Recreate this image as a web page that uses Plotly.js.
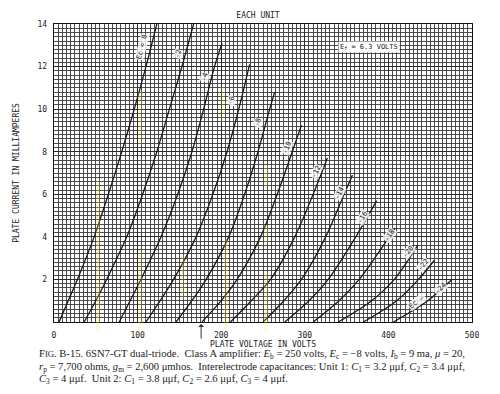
<!DOCTYPE html>
<html><head><meta charset="utf-8">
<script src="https://cdn.plot.ly/plotly-3.0.1.min.js"></script>
<style>html,body{margin:0;padding:0;background:#fff}#chart{width:500px;height:394px}</style>
</head><body><div id="chart"></div>
<script>
// Plate characteristics of the 6SN7-GT (each unit)
const gridBias = [0, -2, -4, -6, -8, -10, -12, -14, -16, -18, -20, -22, -24];
const curveLabels = ['Ec = 0', '-2', '-4', '-6', '-8', '-10', '-12', '-14', '-16', '-18', '-20', '-22', '-24'];

const ec0V   = [6, 17, 28, 48, 65, 81, 96, 110, 123];
const ec0I   = [0, 1, 2, 4, 6, 8, 10, 12, 14];
const ec2V   = [36, 50, 63, 87, 106, 123, 138, 153, 167];
const ec2I   = [0, 1, 2, 4, 6, 8, 10, 12, 14];
const ec4V   = [78, 91, 104, 128, 148, 165, 179, 192, 201];
const ec4I   = [0, 1, 2, 4, 6, 8, 10, 12, 13.1];
const ec6V   = [110, 127, 143, 170, 190, 207, 221, 234];
const ec6I   = [0, 1, 2, 4, 6, 8, 10, 12.1];
const ec8V   = [146, 165, 182, 209, 228, 244, 258, 264];
const ec8I   = [0, 1, 2, 4, 6, 8, 10, 10.8];
const ec10V  = [177, 200, 219, 247, 267, 285, 296];
const ec10I  = [0, 1, 2, 4, 6, 8, 9.25];
const ec12V  = [211, 236, 259, 288, 310, 327];
const ec12I  = [0, 1, 2, 4, 6, 7.7];
const ec14V  = [250, 275, 296, 325, 347, 357];
const ec14I  = [0, 1, 2, 4, 6, 6.9];
const ec16V  = [276, 305, 328, 361, 386];
const ec16I  = [0, 1, 2, 4, 5.7];
const ec18V  = [310, 341, 365, 401, 408];
const ec18I  = [0, 1, 2, 4, 4.4];
const ec20V  = [340, 380, 407, 435];
const ec20I  = [0, 1, 2, 3.6];
const ec22V  = [370, 410, 436, 455];
const ec22I  = [0, 1, 2, 2.9];
const ec24V  = [406, 447, 476];
const ec24I  = [0, 1, 2.0];

const xTicks = [0, 100, 200, 300, 400, 500];
const yTicks = [2, 4, 6, 8, 10, 12, 14];

const curvesV = [ec0V, ec2V, ec4V, ec6V, ec8V, ec10V, ec12V, ec14V, ec16V, ec18V, ec20V, ec22V, ec24V];
const curvesI = [ec0I, ec2I, ec4I, ec6I, ec8I, ec10I, ec12I, ec14I, ec16I, ec18I, ec20I, ec22I, ec24I];

// ---- layout constants ----
const L = 54, R = 28, T = 24, B = 72, W = 500, H = 394;
const PW = W - L - R, PH = H - T - B;
const px2x = p => (p - L) / PW;          // paper coords
const py2y = p => (H - B - p) / PH;

const traces = curvesV.map((v, k) => ({
  x: v, y: curvesI[k], type: 'scatter', mode: 'lines',
  name: 'Ec = ' + gridBias[k],
  line: {color: '#1a1a1a', width: 1.3, shape: 'spline', smoothing: 0.9},
  hoverinfo: 'skip', showlegend: false
}));

// label placement (data coords) and rotation for each curve label
const labelPos = [
  [108, 12.9, -76], [151, 12.6, -75], [183, 11.5, -73], [214, 10.4, -72],
  [246, 9.35, -70], [282, 8.2, -67], [316, 7.05, -64], [344, 6.06, -62],
  [372, 4.93, -58], [404, 4.09, -55], [426, 3.29, -52], [444, 2.68, -50],
  [465, 1.6, -45]
];
const curveFont = {family: 'DejaVu Sans Mono, Liberation Mono, monospace', size: 7, color: '#222'};
const annotations = curveLabels.map((t, k) => ({
  x: labelPos[k][0], y: labelPos[k][1], xref: 'x', yref: 'y', xshift: -2,
  text: t, showarrow: false, textangle: labelPos[k][2], font: curveFont,
  bgcolor: 'rgba(255,255,255,0.8)', borderpad: 0
}));
annotations.push({x: 434, y: 0.95, xref: 'x', yref: 'y', text: 'Ec –', showarrow: false,
  textangle: -38, font: curveFont, bgcolor: 'rgba(255,255,255,0.8)', borderpad: 0});
annotations.push({x: px2x(400), y: py2y(41), xref: 'paper', yref: 'paper',
  text: 'E<sub>f</sub> = 6.3 VOLTS', showarrow: false,
  font: {family: 'DejaVu Sans Mono, Liberation Mono, monospace', size: 7, color: '#222'},
  bgcolor: '#fff', borderpad: 1});
// operating-point arrow under the voltage axis
annotations.push({x: 176, y: 0, xref: 'x', yref: 'y', ax: 0, ay: 18, text: '',
  showarrow: true, arrowhead: 1, arrowsize: 1, arrowwidth: 1, arrowcolor: '#333', standoff: 2});

const capFont = {family: 'Liberation Serif, DejaVu Serif, serif', size: 10.6, color: '#222'};
const caption = [
  "F<span style='font-size:8.6px'>IG</span>. B-15. 6SN7-GT dual-triode.  Class A amplifier: <i>E</i><sub>b</sub> = 250 volts, <i>E</i><sub>c</sub> = −8 volts, <i>I</i><sub>b</sub> = 9 ma, <i>μ</i> = 20,",
  "<i>r</i><sub>p</sub> = 7,700 ohms, <i>g</i><sub>m</sub> = 2,600 μmhos.  Interelectrode capacitances: Unit 1: <i>C</i><sub>1</sub> = 3.2 μμf, <i>C</i><sub>2</sub> = 3.4 μμf,",
  "<i>C</i><sub>3</sub> = 4 μμf.  Unit 2: <i>C</i><sub>1</sub> = 3.8 μμf, <i>C</i><sub>2</sub> = 2.6 μμf, <i>C</i><sub>3</sub> = 4 μμf."
];
const capY = [355, 367, 379];
caption.forEach((t, i) => annotations.push({
  x: px2x(37), y: py2y(capY[i]), xref: 'paper', yref: 'paper', xanchor: 'left', yanchor: 'middle',
  align: 'left', text: t.replace(/  /g, '\u00a0 '), showarrow: false, font: capFont
}));

// faint highlighter streaks on the scanned page
const streaks = [
  [140, 250, 332], [140, 92, 145], [98, 180, 330], [183, 255, 300],
  [226, 240, 330], [223, 86, 122], [266, 165, 186], [266, 272, 330], [266, 226, 244]
];
const shapes = streaks.map(s => ({
  type: 'rect', xref: 'paper', yref: 'paper', layer: 'above',
  x0: px2x(s[0] - 2), x1: px2x(s[0] + 2), y0: py2y(s[2]), y1: py2y(s[1]),
  fillcolor: 'rgba(255,240,90,0.22)', line: {width: 0}
}));

const monoFont = {family: 'DejaVu Sans Mono, Liberation Mono, monospace', size: 8, color: '#222'};

const layout = {
  width: W, height: H,
  margin: {l: L, r: R, t: T, b: B, pad: 0},
  paper_bgcolor: '#fff', plot_bgcolor: '#fff',
  title: {text: 'EACH UNIT', x: 258 / W, xanchor: 'center', y: 1 - 15 / H, yanchor: 'middle', font: monoFont},
  xaxis: {
    range: [0, 500], tickmode: 'array', tickvals: xTicks, ticktext: xTicks.map(String),
    showgrid: true, gridcolor: '#2a2a2a', gridwidth: 1,
    minor: {dtick: 5, tick0: 0, showgrid: true, gridcolor: '#3a3a3a', gridwidth: 0.9},
    zeroline: false, showline: true, linecolor: '#111', linewidth: 1.2, mirror: true,
    ticks: '', tickfont: monoFont, ticklabelstandoff: 5,
    title: {text: 'PLATE VOLTAGE IN VOLTS', font: monoFont, standoff: 2},
    fixedrange: true
  },
  yaxis: {
    range: [0, 14], tickmode: 'array', tickvals: yTicks, ticktext: yTicks.map(String),
    showgrid: true, gridcolor: '#2a2a2a', gridwidth: 1,
    minor: {dtick: 0.2, tick0: 0, showgrid: true, gridcolor: '#3a3a3a', gridwidth: 0.9},
    zeroline: false, showline: true, linecolor: '#111', linewidth: 1.2, mirror: true,
    ticks: '', tickfont: monoFont, ticklabelstandoff: 4,
    title: {text: 'PLATE CURRENT IN MILLIAMPERES', font: monoFont, standoff: 16},
    fixedrange: true
  },
  annotations: annotations,
  shapes: shapes,
  showlegend: false, hovermode: false
};

Plotly.newPlot('chart', traces, layout, {displayModeBar: false, staticPlot: true});
</script></body></html>
